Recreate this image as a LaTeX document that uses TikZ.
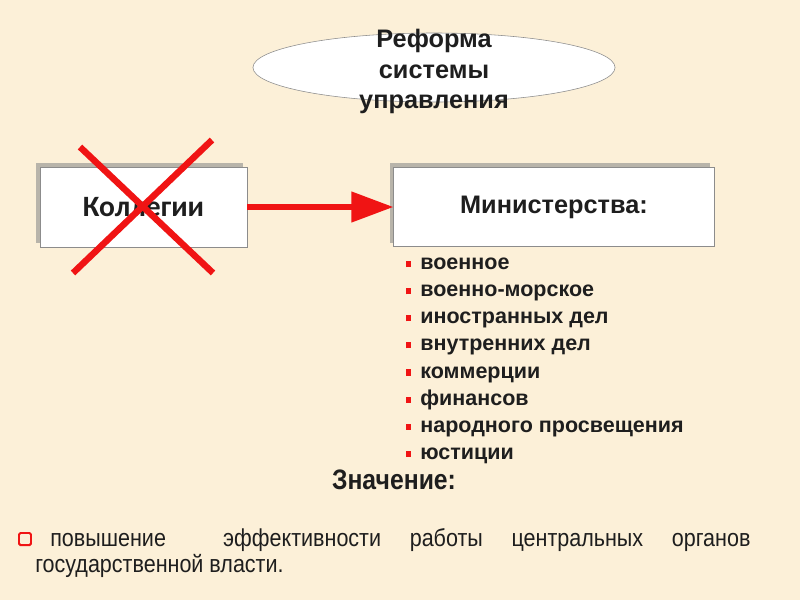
\documentclass[tikz,border=0pt]{standalone}
\usepackage{fontspec}
\setmainfont{Liberation Sans}
\newfontfamily\calib{Carlito}
\newfontfamily\narrowf{Liberation Sans}[FakeStretch=0.88]
\usetikzlibrary{shapes,arrows.meta,positioning,shadows}
\definecolor{paper}{RGB}{252,240,216}
\definecolor{bred}{RGB}{240,20,20}
\definecolor{frame}{RGB}{140,140,140}
\definecolor{ink}{RGB}{30,30,30}
\newcommand{\rbul}{\textcolor{bred}{\rule[1.8pt]{3.6pt}{4.3pt}}\hspace{6.4pt}}

\begin{document}
\begin{tikzpicture}[x=0.025cm,y=-0.025cm, every node/.style={text=ink},
  box/.style={draw=frame, fill=white, rectangle, line width=0.6pt, drop shadow={shadow xshift=-0.1cm, shadow yshift=0.1cm, fill=black!45, opacity=0.6}},
  ministry/.style={inner sep=0pt, anchor=north west, font=\bfseries\fontsize{15.3}{18}\selectfont, text height=0.45cm, text depth=0.2125cm}]
\useasboundingbox[fill=paper] (0,0) rectangle (800,600);
\node[draw=frame, fill=white, ellipse, inner sep=0pt, minimum width=9.05cm, minimum height=1.725cm, label={[yshift=-0.1cm, align=center, text=ink, font=\bfseries\fontsize{18}{21.7}\selectfont]center:Реформа\\системы\\управления}] (reform) at (434,67.5) {};
\node[box, minimum width=5.175cm, minimum height=2cm, font=\calib\bfseries\fontsize{21}{24}\selectfont] (kol) at (143.5,207) {Коллегии};
\node[box, minimum width=8cm, minimum height=1.975cm, font=\bfseries\fontsize{18}{21}\selectfont, right=3.65cm of kol] (minist) {Министерства:};
\draw[bred, line width=4.3pt, -{Triangle[length=30pt, width=21pt]}] (kol) -- (minist);
% cross over the old colleges
\draw[bred, line width=4.6pt] (80,147) -- (213,273) (212,140) -- (73,273);
% list of ministries
\node[ministry, anchor=west] (m1) at (406,265) {\rbul военное};
\node[below=0pt of m1.south west, ministry] (m2) {\rbul военно-морское};
\node[below=0pt of m2.south west, ministry] (m3) {\rbul иностранных дел};
\node[below=0pt of m3.south west, ministry] (m4) {\rbul внутренних дел};
\node[below=0pt of m4.south west, ministry] (m5) {\rbul коммерции};
\node[below=0pt of m5.south west, ministry] (m6) {\rbul финансов};
\node[below=0pt of m6.south west, ministry] (m7) {\rbul народного просвещения};
\node[below=0pt of m7.south west, ministry] (m8) {\rbul юстиции};
\node[font=\narrowf\bfseries\fontsize{20}{24}\selectfont] (znach) at (394,480) {Значение:};
\node[draw=bred, line width=1.4pt, rounded corners=1pt, minimum size=0.3cm, inner sep=0pt] (mark) at (25,539) {};
\node[anchor=north west, inner sep=0pt, text width=17.875cm, align=justify, font=\narrowf\fontsize{17.4}{18.6}\selectfont] (effect) at (35,528) {\hspace*{0.375cm}повышение \ эффективности работы центральных органов\linebreak государственной власти.};
\end{tikzpicture}
\end{document}
